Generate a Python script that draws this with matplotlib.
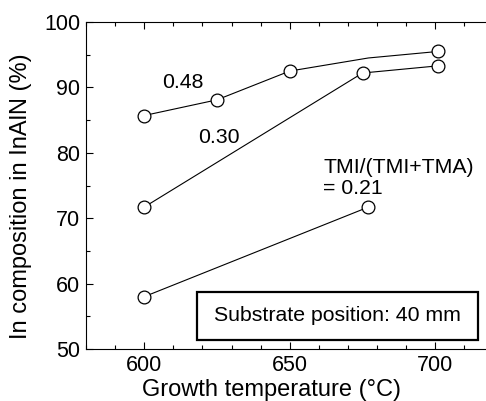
import matplotlib
matplotlib.use("Agg")
import matplotlib.pyplot as plt
from matplotlib.ticker import MultipleLocator
from matplotlib.patches import Rectangle

plt.rcParams['font.family'] = ['Liberation Sans', 'DejaVu Sans']

# Data
t_048 = [600, 625, 650, 677, 701]
y_048 = [85.7, 88.1, 92.5, 94.5, 95.5]
mark_048 = [0, 1, 2, 4]
t_030 = [600, 675, 701]
y_030 = [71.7, 92.2, 93.3]
t_021 = [600, 677]
y_021 = [58.0, 71.7]

fig = plt.figure(figsize=(4.86, 4.01), dpi=100)
ax = fig.add_axes([86/486, 52/401, 1 - 86/486, (349-22)/401])

mk = dict(marker='o', markersize=9.2, markerfacecolor='white',
          markeredgecolor='black', markeredgewidth=0.9, color='black', lw=0.8)
ax.plot(t_048, y_048, markevery=mark_048, **mk)
ax.plot(t_030, y_030, **mk)
ax.plot(t_021, y_021, **mk)

ax.set_xlim(580, 717.4)
ax.set_ylim(50, 100)
ax.xaxis.set_major_locator(MultipleLocator(50))
ax.xaxis.set_minor_locator(MultipleLocator(10))
ax.yaxis.set_major_locator(MultipleLocator(10))
ax.yaxis.set_minor_locator(MultipleLocator(5))
ax.tick_params(which='both', direction='in', top=True, right=False, labelsize=15.5, width=0.8, pad=4)
ax.tick_params(which='major', length=5)
ax.tick_params(which='minor', length=3)
ax.spines['right'].set_visible(False)
for s in ['left', 'bottom', 'top']:
    ax.spines[s].set_linewidth(0.8)

ax.set_xlabel('Growth temperature (°C)', fontsize=17, va='top')
ax.xaxis.set_label_coords(0.4625, -0.091)
ax.set_ylabel('In composition in InAlN (%)', fontsize=17)
ax.yaxis.set_label_coords(-0.135, 0.468)

fs = 15.3
ax.text(613.4, 90.7, '0.48', fontsize=fs, ha='center', va='center')
ax.text(625.7, 82.4, '0.30', fontsize=fs, ha='center', va='center')
ax.text(661.5, 77.7, 'TMI/(TMI+TMA)', fontsize=fs, ha='left', va='center')
ax.text(661.5, 74.6, '= 0.21', fontsize=fs, ha='left', va='center')

ax.add_patch(Rectangle((618.2, 51.4), 714.7 - 618.2, 58.7 - 51.4, facecolor='white',
                       edgecolor='black', linewidth=1.6, zorder=3))
ax.text((618.2 + 714.7) / 2, 55.05, 'Substrate position: 40 mm', fontsize=fs,
        ha='center', va='center', zorder=4)

fig.savefig('out.png', dpi=100)
